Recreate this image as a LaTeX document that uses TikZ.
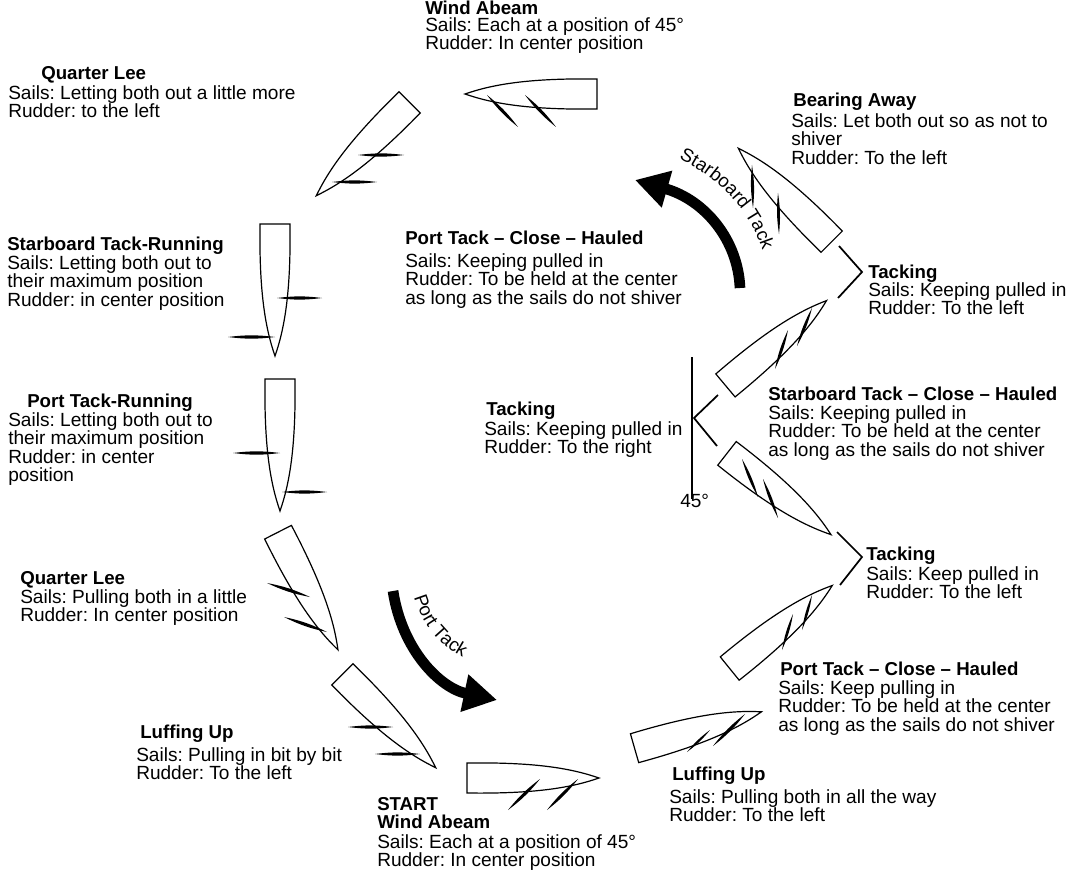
\documentclass[tikz,border=0pt]{standalone}
\usepackage{fontspec}
\setmainfont{Liberation Sans}
\usetikzlibrary{arrows.meta,decorations.text}
\begin{document}
\frenchspacing
\begin{tikzpicture}[x=0.75pt,y=0.75pt,
  txt/.style={anchor=north west,inner sep=0pt,align=left,font=\fontsize{14.3}{13.9}\selectfont},
  ttl/.style={anchor=north west,inner sep=0pt,align=left,font=\fontsize{14}{13.9}\selectfont\bfseries},
  hull/.style={line width=0.9pt,line join=miter},
  bracket/.style={line width=1.3pt},
  bigarrow/.style={line width=8pt,-{Triangle[length=25pt,width=27pt]}},
  boat/.pic={\draw[hull] (-66,15) .. controls (5,16) and (40,9) .. (66,0) .. controls (40,-9) and (5,-16) .. (-66,-15) -- cycle;}]
\newcommand\sail[2]{\fill (#1) to[bend left=7] (#2) to[bend left=7] (#1);}
\useasboundingbox (0,0) rectangle (1073,-884);
% boats
\path (531,-94) pic[rotate=180]{boat};
\path (363,-149) pic[rotate=-135]{boat};
\path (275,-290) pic[rotate=-90]{boat};
\path (280,-445) pic[rotate=-90]{boat};
\path (308,-591) pic[rotate=-63]{boat};
\path (389,-721) pic[rotate=-45]{boat};
\path (533,-778) pic[rotate=0]{boat};
\path (785,-195) pic[rotate=135]{boat};
\path (776,-343) pic[rotate=40]{boat};
\path (779,-494) pic[rotate=-38]{boat};
\path (781,-627) pic[rotate=39]{boat};
\path (698,-730) pic[rotate=16]{boat};
% sails
\sail{487,-95}{518,-127}\sail{525,-95}{556,-127}
\sail{358,-155}{404,-155}\sail{332,-182}{377,-182}
\sail{277,-298}{322,-298}\sail{228,-337}{275,-337}
\sail{233,-453}{280,-453}\sail{282,-492}{327,-492}
\sail{267,-583}{310,-597}\sail{284,-617}{327,-632}
\sail{348,-727}{393,-727}\sail{375,-754}{420,-754}
\sail{508,-810}{540,-779}\sail{547,-810}{578,-779}
\sail{752,-165}{753,-208}\sail{778,-193}{779,-234}
\sail{775,-369}{788,-330}\sail{797,-346}{812,-308}
\sail{742,-459}{758,-497}\sail{763,-479}{778,-518}
\sail{782,-650}{793,-614}\sail{802,-630}{812,-595}
\sail{687,-752}{710,-730}\sail{713,-746}{745,-714}
% brackets
\draw[bracket] (839,-246) -- (862,-272) -- (838,-298);
\draw[bracket] (692,-357) -- (692,-499);
\draw[bracket] (718,-395) -- (694,-418) -- (717,-446);
\draw[bracket] (837,-532) -- (862,-557) -- (840,-585);
% big arrows
\draw[bigarrow] (393,-591) .. controls (402,-650) and (440,-688) .. (497,-700);
\draw[bigarrow] (740,-288) .. controls (738,-240) and (705,-200) .. (635,-180);
\path[decorate,decoration={text along path,text align=center,text={|\fontsize{14}{14}\selectfont|Starboard Tack}}]
  (646,-146) .. controls (718,-168) and (762,-216) .. (770,-285);
\path[decorate,decoration={text along path,text align=center,text={|\fontsize{14}{14}\selectfont|Port Tack}}]
  (411,-585) .. controls (418,-620) and (436,-647) .. (474,-663);
% texts
\node[ttl] (t1) at (425,-1) {Wind Abeam};
\node[txt] (b1) at (425,-17) {Sails: Each at a position of 45°\\Rudder: In center position};
\node[ttl] (t2) at (41,-66) {Quarter Lee};
\node[txt] (b2) at (8,-85) {Sails: Letting both out a little more\\Rudder: to the left};
\node[ttl] (t3) at (7,-237) {Starboard Tack-Running};
\node[txt] (b3) at (7,-255) {Sails: Letting both out to\\their maximum position\\Rudder: in center position};
\node[ttl] (t4) at (27,-394) {Port Tack-Running};
\node[txt] (b4) at (8,-412) {Sails: Letting both out to\\their maximum position\\Rudder: in center\\position};
\node[ttl] (t5) at (20,-571) {Quarter Lee};
\node[txt] (b5) at (20,-589) {Sails: Pulling both in a little\\Rudder: In center position};
\node[ttl] (t6) at (140,-725) {Luffing Up};
\node[txt] (b6) at (136,-747) {Sails: Pulling in bit by bit\\Rudder: To the left};
\node[ttl] (t7) at (377,-797) {START\\Wind Abeam};
\node[txt] (b7) at (377,-834) {Sails: Each at a position of 45°\\Rudder: In center position};
\node[ttl] (t8) at (672,-767) {Luffing Up};
\node[txt] (b8) at (669,-789) {Sails: Pulling both in all the way\\Rudder: To the left};
\node[ttl] (t9) at (780,-662) {Port Tack – Close – Hauled};
\node[txt] (b9) at (778,-680) {Sails: Keep pulling in\\Rudder: To be held at the center\\as long as the sails do not shiver};
\node[ttl] (t10) at (866,-547) {Tacking};
\node[txt] (b10) at (866,-566) {Sails: Keep pulled in\\Rudder: To the left};
\node[ttl] (t11) at (768,-387) {Starboard Tack – Close – Hauled};
\node[txt] (b11) at (768,-405) {Sails: Keeping pulled in\\Rudder: To be held at the center\\as long as the sails do not shiver};
\node[ttl] (t12) at (486,-402) {Tacking};
\node[txt] (b12) at (484,-421) {Sails: Keeping pulled in\\Rudder: To the right};
\node[txt] (deg) at (680,-494) {45°};
\node[ttl] (t13) at (868,-265) {Tacking};
\node[txt] (b13) at (868,-282) {Sails: Keeping pulled in\\Rudder: To the left};
\node[ttl] (t14) at (793,-93) {Bearing Away};
\node[txt] (b14) at (791,-113) {Sails: Let both out so as not to\\shiver\\Rudder: To the left};
\node[ttl] (t15) at (405,-231) {Port Tack – Close – Hauled};
\node[txt] (b15) at (405,-253) {Sails: Keeping pulled in\\Rudder: To be held at the center\\as long as the sails do not shiver};
\end{tikzpicture}
\end{document}
